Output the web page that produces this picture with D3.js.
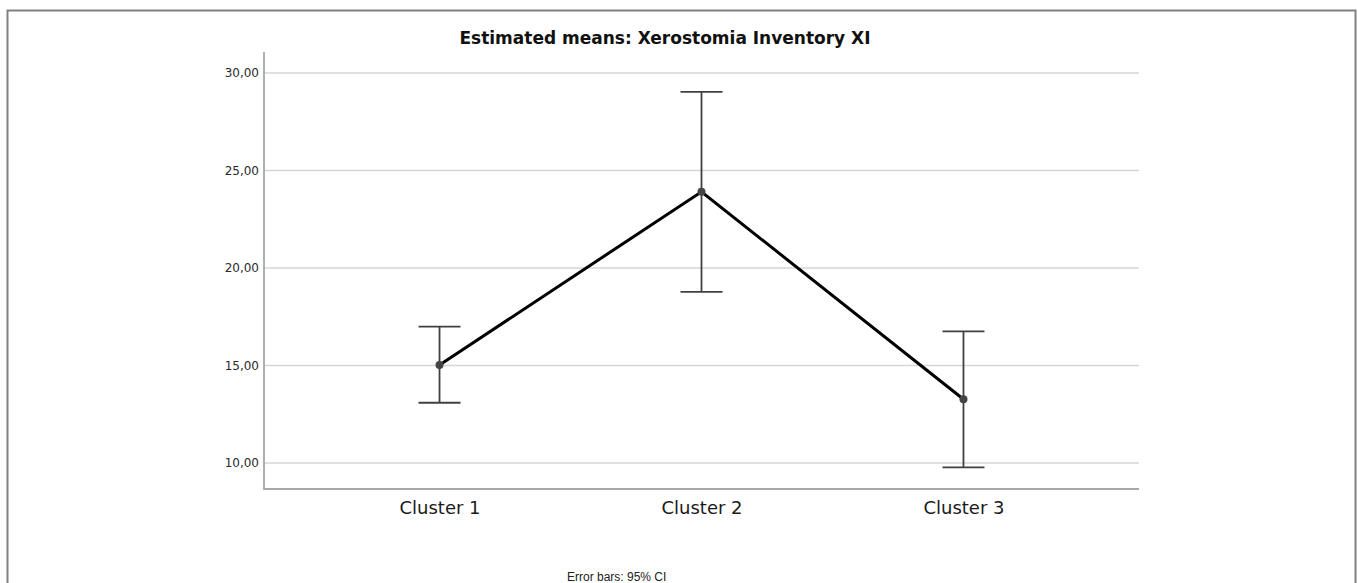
<!DOCTYPE html>
<html lang="en">
<head>
    <meta charset="UTF-8">
    <title>Estimated means: Xerostomia Inventory XI</title>
    <script src="https://cdnjs.cloudflare.com/ajax/libs/d3/7.8.5/d3.min.js"></script>
    <style>
        body {
            margin: 0;
            background: #fff;
            overflow: hidden;
            font-family: 'DejaVu Sans', 'Liberation Sans', sans-serif;
        }
    </style>
</head>
<body>
    <div id="chart"></div>
    <script>
    // data
    const clusters = ["Cluster 1", "Cluster 2", "Cluster 3"];
    const means = [15.03, 23.91, 13.27];
    const ciLower = [13.09, 18.78, 9.78];
    const ciUpper = [16.99, 29.04, 16.75];
    const yTicks = [10, 15, 20, 25, 30];

    (function() {
    const width = 1358, height = 583;
    const plot = { left: 264, right: 1139, top: 52, bottom: 489 };

    const svg = d3.select("#chart")
        .append("svg")
        .attr("width", width)
        .attr("height", height);

    // outer frame
    svg.append("rect")
        .attr("x", 7.5)
        .attr("y", 10.5)
        .attr("width", 1348)
        .attr("height", 600)
        .attr("fill", "none")
        .attr("stroke", "#808080")
        .attr("stroke-width", 2);

    const x = d3.scalePoint()
        .domain(clusters)
        .range([plot.left, plot.right])
        .padding(0.67);

    const y = d3.scaleLinear()
        .domain([8.667, 31.08])
        .range([plot.bottom, plot.top]);

    // grid lines
    svg.append("g")
        .selectAll("line")
        .data(yTicks)
        .join("line")
        .attr("x1", plot.left)
        .attr("x2", plot.right)
        .attr("y1", d => y(d))
        .attr("y2", d => y(d))
        .attr("stroke", "#d6d6d6")
        .attr("stroke-width", 1.5);

    // y axis
    const yAxis = svg.append("g")
        .attr("transform", `translate(${plot.left},0)`)
        .call(d3.axisLeft(y)
            .tickValues(yTicks)
            .tickSize(0)
            .tickPadding(5)
            .tickFormat(d => d3.format(".2f")(d).replace(".", ",")));
    yAxis.select(".domain").remove();
    yAxis.selectAll("text")
        .attr("fill", "#2a2a2a")
        .style("font-size", "12px")
        .style("font-family", "'DejaVu Sans', sans-serif");

    // axis lines
    svg.append("path")
        .attr("d", `M${plot.left},${plot.top}V${plot.bottom}H${plot.right}`)
        .attr("fill", "none")
        .attr("stroke", "#a8a8a8")
        .attr("stroke-width", 1.8);

    // x axis labels
    const xAxis = svg.append("g")
        .attr("transform", `translate(0,${plot.bottom})`)
        .call(d3.axisBottom(x).tickSize(0).tickPadding(0));
    xAxis.select(".domain").remove();
    xAxis.selectAll("text")
        .attr("dy", null)
        .attr("y", 25)
        .attr("fill", "#1a1a1a")
        .style("font-size", "18px")
        .style("font-family", "'DejaVu Sans', sans-serif");

    const rows = clusters.map((c, i) => ({ c, m: means[i], lo: ciLower[i], hi: ciUpper[i] }));

    // error bars
    const eb = svg.append("g")
        .attr("stroke", "#404040")
        .attr("stroke-width", 1.8);
    eb.selectAll("line.v")
        .data(rows)
        .join("line")
        .attr("class", "v")
        .attr("x1", d => x(d.c)).attr("x2", d => x(d.c))
        .attr("y1", d => y(d.lo)).attr("y2", d => y(d.hi));
    eb.selectAll("line.hi")
        .data(rows)
        .join("line")
        .attr("class", "hi")
        .attr("x1", d => x(d.c) - 21).attr("x2", d => x(d.c) + 21)
        .attr("y1", d => y(d.hi)).attr("y2", d => y(d.hi));
    eb.selectAll("line.lo")
        .data(rows)
        .join("line")
        .attr("class", "lo")
        .attr("x1", d => x(d.c) - 21).attr("x2", d => x(d.c) + 21)
        .attr("y1", d => y(d.lo)).attr("y2", d => y(d.lo));

    // mean line
    svg.append("path")
        .datum(rows)
        .attr("fill", "none")
        .attr("stroke", "#000")
        .attr("stroke-width", 3)
        .attr("d", d3.line().x(d => x(d.c)).y(d => y(d.m)));

    svg.append("g")
        .selectAll("circle")
        .data(rows)
        .join("circle")
        .attr("cx", d => x(d.c))
        .attr("cy", d => y(d.m))
        .attr("r", 4)
        .attr("fill", "#444");

    // title
    svg.append("text")
        .attr("x", 665)
        .attr("y", 44)
        .attr("text-anchor", "middle")
        .attr("fill", "#111")
        .style("font-size", "17px")
        .style("font-weight", "bold")
        .text("Estimated means: Xerostomia Inventory XI");

    // footnote
    svg.append("text")
        .attr("x", 567)
        .attr("y", 581)
        .attr("fill", "#222")
        .style("font-size", "12px")
        .style("font-family", "'Liberation Sans Narrow', 'Liberation Sans', sans-serif")
        .text("Error bars: 95% CI");
    })();
    </script>
</body>
</html>
